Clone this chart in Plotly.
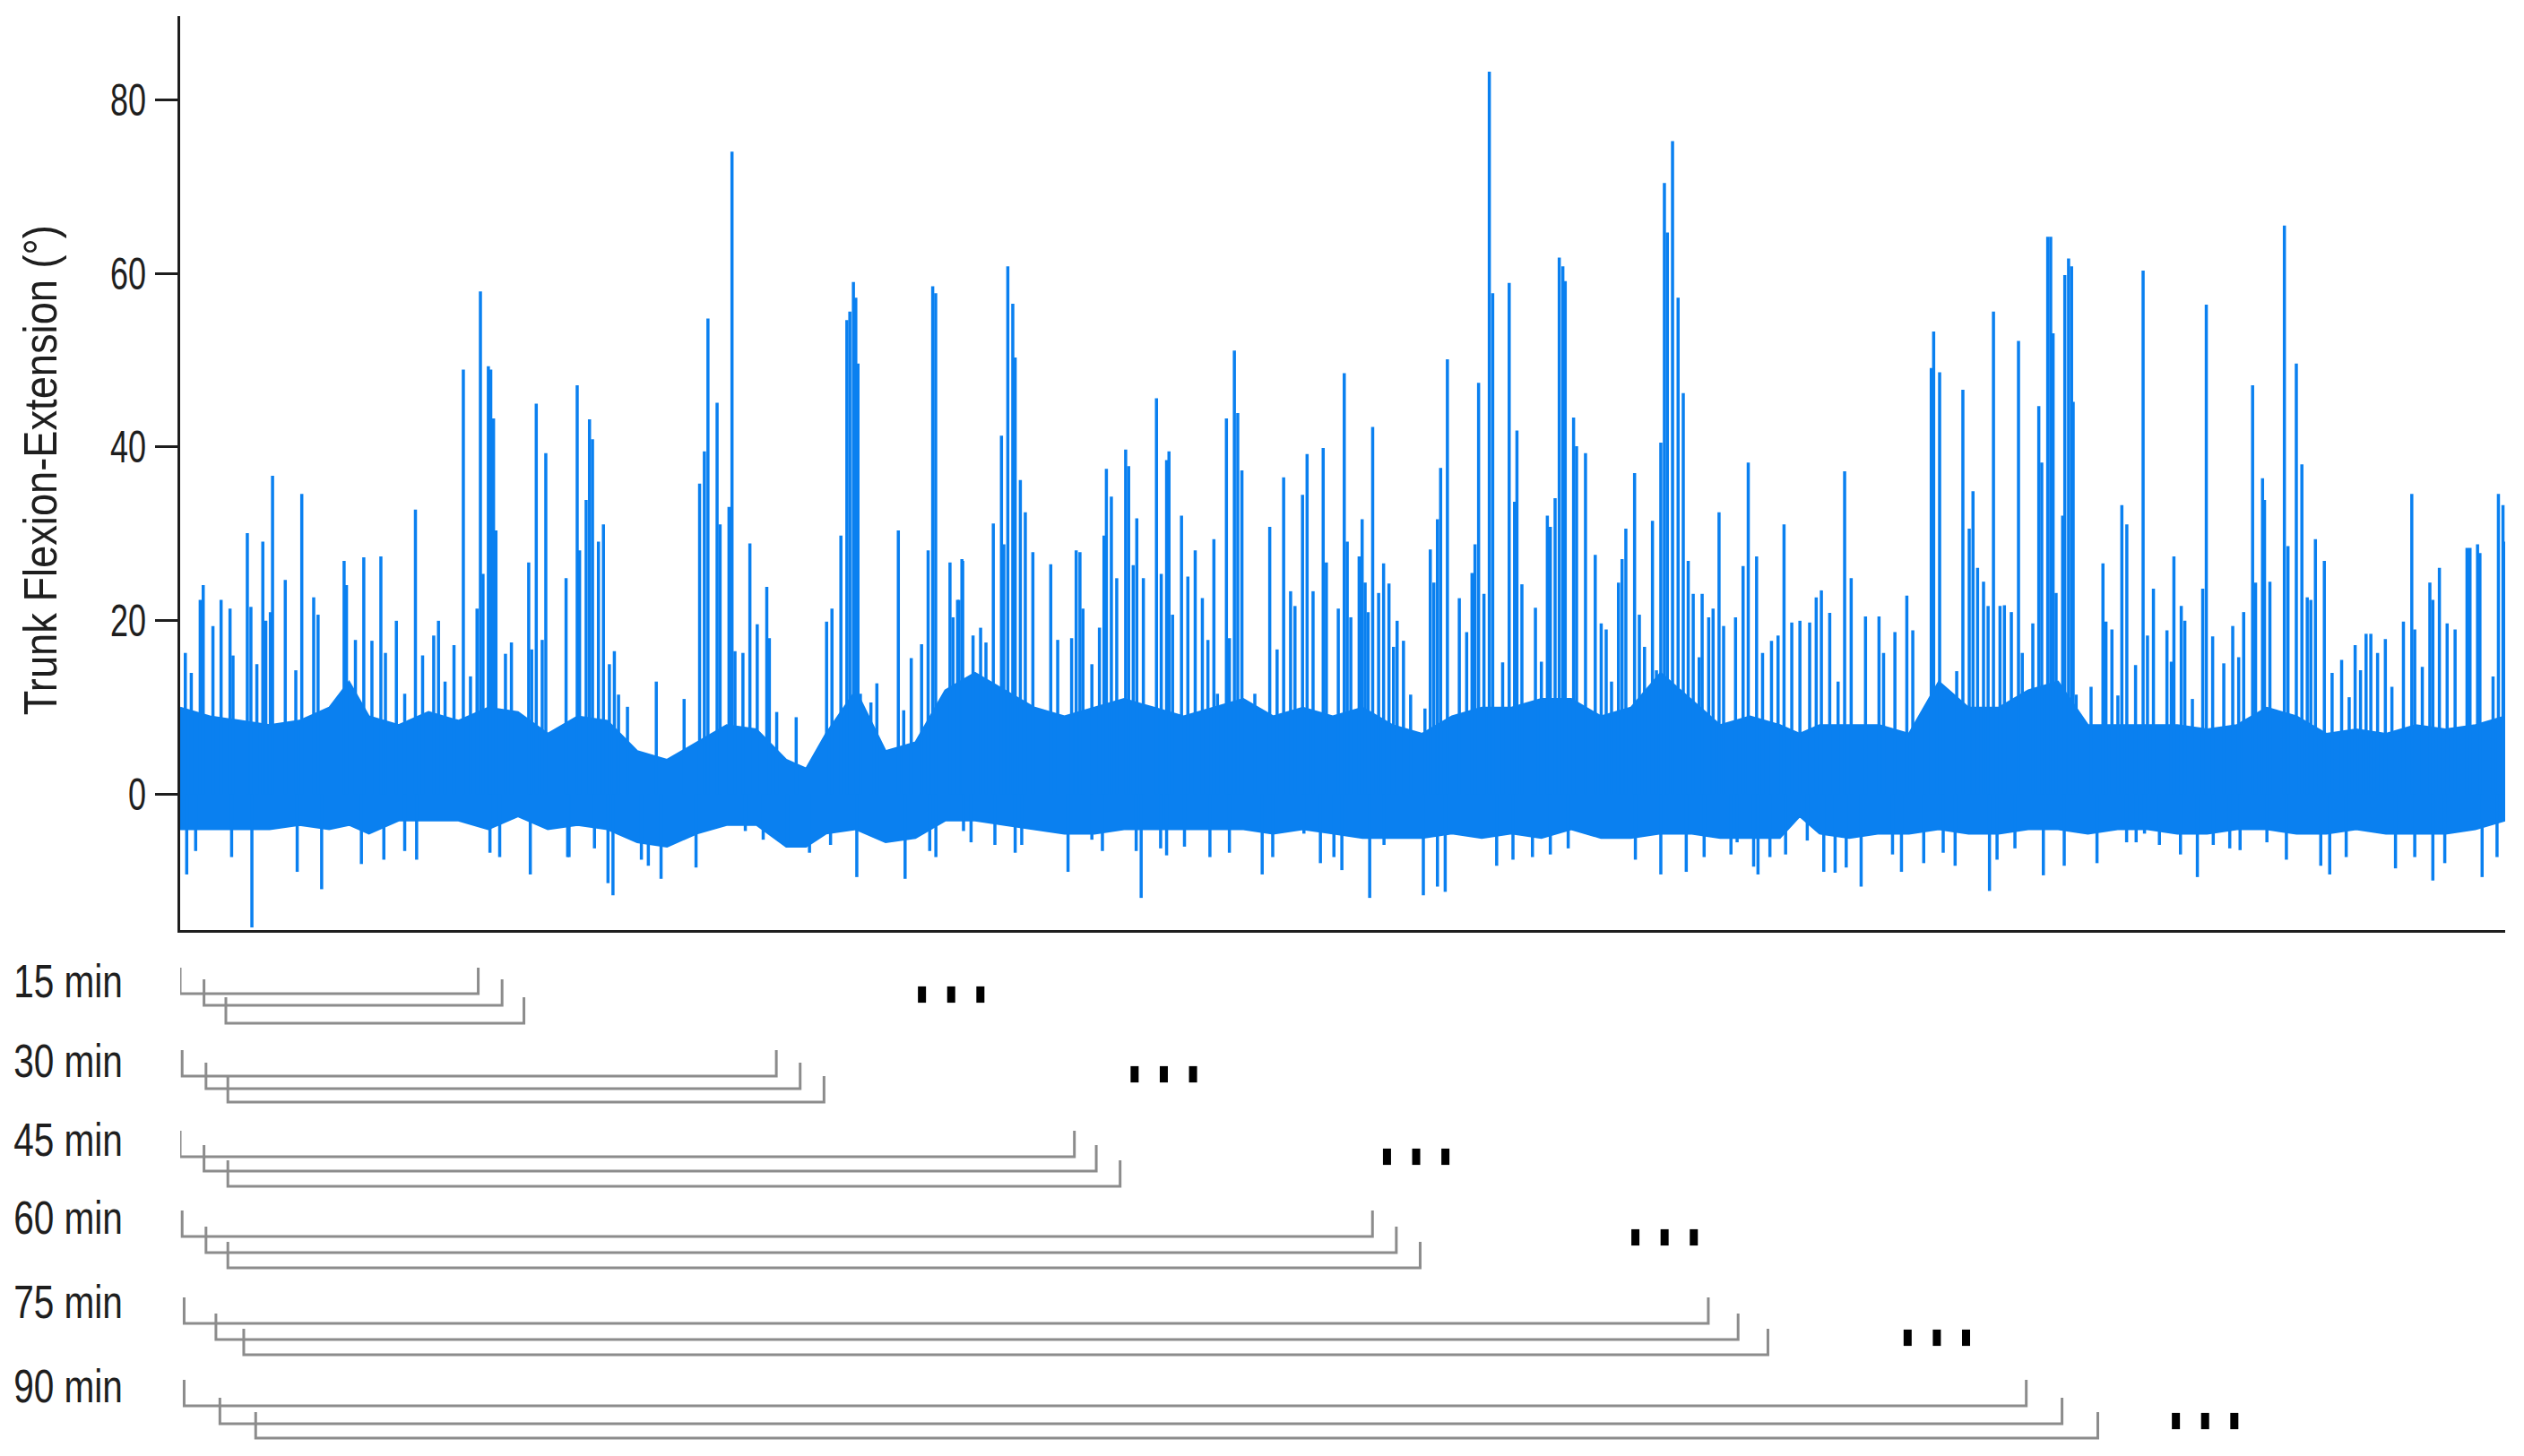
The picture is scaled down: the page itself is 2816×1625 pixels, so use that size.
import plotly.graph_objects as go

# ---- data (x in minutes, y in degrees) ----
BAND_T = [0, 1.5, 3, 4.5, 6, 7.5, 8.5, 9.5, 11, 12.5, 14, 15.5, 17, 18.5, 20, 21.5,
          23, 24.5, 26, 27.5, 29, 30.5, 31.5, 32.5, 34, 35.5, 37, 38.5, 40, 41.5,
          43, 44.5, 46, 47.5, 49, 50.5, 52, 53.5, 55, 56.5, 58, 59.5, 61, 62.5,
          64, 65.5, 67, 68.5, 70, 71.5, 73, 74.5, 76, 77.5, 79, 80.5, 81.5, 82.5,
          84, 85.5, 87, 88.5, 90, 91.5, 93, 94.5, 96, 97.5, 99, 100.5, 102, 103.5,
          105, 106.5, 108, 109.5, 111, 112.5, 114, 115.5, 117]
BAND_HI = [10, 9, 8.5, 8, 8.5, 10, 13, 9, 8, 9.5, 8.5, 10, 9.5, 7, 9, 8.5,
           5, 4, 6, 8, 7.5, 4, 3, 7, 12, 5, 6, 12, 14, 12,
           10, 9, 10, 11, 10, 9, 10, 11, 9, 10, 9, 10, 8, 7,
           9, 10, 10, 11, 11, 9, 10, 14, 11, 8, 9, 8, 7, 8,
           8, 8, 7, 13, 10, 10, 12, 13, 8, 8, 8, 8, 7.5, 8,
           10, 9, 7, 7.5, 7, 8, 7.5, 8, 9]
BAND_LO = [-4, -4, -4, -4, -3.5, -4, -3.5, -4.5, -3, -3, -3, -4, -2.5, -4, -3.5, -4,
           -5.5, -6, -4.5, -3.5, -3.5, -6, -6, -4.5, -4, -5.5, -5, -3, -3, -3.5,
           -4, -4.5, -4.5, -4, -4, -4, -4, -4, -4.5, -4, -4.5, -5, -5, -5,
           -4.5, -5, -4.5, -5, -4, -5, -5, -4.5, -4.5, -5, -5, -5, -2.5, -4.5,
           -5, -4.5, -4.5, -4, -4.5, -4.5, -4, -4, -4.5, -4, -4, -4.5, -4.5, -4,
           -4, -4.5, -4.5, -4, -4.5, -4.5, -4.5, -4, -3]

SPIKE_T = [0.26, 0.56, 1.01, 1.16, 1.65, 2.06, 2.51, 2.66, 3.38, 3.56, 3.86, 4.16, 4.31, 4.54,
           4.65, 5.29, 5.82, 6.12, 6.72, 6.94, 8.25, 8.37, 8.82, 9.24, 9.65, 10.10, 10.33,
           10.88, 11.30, 11.84, 12.20, 12.76, 13.00, 13.33, 13.78, 14.25, 14.61, 14.94, 15.11,
           15.24, 15.51, 15.63, 15.77, 15.89, 16.37, 16.67, 17.54, 17.69, 17.92, 18.22, 18.40,
           19.42,
           19.98, 20.10, 20.43, 20.60, 20.75, 21.05, 21.30, 21.60, 21.85, 22.06, 22.51, 23.96,
           25.36, 26.14, 26.38, 26.56, 27.02, 27.17, 27.62, 27.77, 27.92, 28.32, 28.67, 29.04,
           29.52, 29.65, 30.02, 31.00, 32.53, 32.80, 33.25, 33.55, 33.70, 33.88, 34.00, 34.11,
           34.23, 34.76, 35.06, 36.14, 36.41, 36.79, 37.31, 37.64, 37.87, 38.02, 38.74, 38.89,
           39.19, 39.34,
           39.12, 39.38, 39.90, 40.28, 40.55, 40.92, 41.33, 41.45, 41.65, 41.90, 42.02, 42.28,
           42.53, 42.91, 43.81, 44.16, 44.86, 45.09, 45.28, 45.43, 45.88, 46.26, 46.49, 46.61,
           46.86, 47.13, 47.58, 47.73, 47.96, 48.14, 48.47, 49.13, 49.37, 49.64, 49.76, 49.94,
           50.39, 50.71, 51.08, 51.44, 51.72, 52.02, 52.20, 52.65, 52.80, 53.05, 53.22, 53.43,
           54.08, 54.83, 55.20, 55.53, 55.88, 56.10, 56.48, 56.71, 57.01, 57.52, 57.68, 58.28,
           58.58, 58.73,
           58.91, 59.33, 59.48, 59.63, 59.78, 60.01, 60.31, 60.56, 60.83, 61.06, 61.24, 61.56,
           61.92, 62.64, 62.91, 63.09, 63.27, 63.43, 63.77, 64.37, 64.74, 65.01, 65.16, 65.34,
           65.61, 65.88, 66.05, 66.55, 66.88, 67.15, 67.27, 67.52, 68.20, 68.50, 68.80, 68.95,
           69.19, 69.40, 69.58, 69.70, 70.12, 70.27, 70.72, 71.21, 71.51, 71.76, 72.03, 72.38,
           72.56, 72.75, 73.19, 73.43, 73.69, 74.09, 74.29, 74.51, 74.69, 74.84, 75.10, 75.38,
           75.64, 75.89, 76.14, 76.44, 76.59, 76.92, 77.14, 77.44, 77.67, 78.27, 78.65,
           78.91, 79.33, 79.63, 80.08, 80.41, 80.71, 81.10, 81.51, 82.00, 82.33, 82.59, 83.01,
           83.43, 83.76, 84.09, 84.81, 85.49, 85.72, 86.29, 86.89, 87.19, 87.82, 88.12, 88.24,
           88.54, 88.72, 89.40, 89.71, 90.03, 90.22, 90.45, 90.75, 90.98, 91.25, 91.58, 91.80,
           92.15, 92.51, 92.70, 93.23, 93.53, 93.68, 93.98, 94.13, 94.25, 94.40, 94.73, 94.84,
           95.03, 95.18, 95.26, 95.41, 96.16, 96.76, 96.91, 97.21, 97.51, 97.71, 97.96,
           98.40, 98.78, 99.00, 99.30, 99.98, 100.20, 100.33, 100.70, 100.88, 101.26, 101.78,
           101.96, 102.28, 102.84, 103.29, 103.59, 103.84, 104.29, 104.44, 104.79, 104.89,
           105.16, 105.89, 106.07, 106.49, 106.77, 107.04, 107.22, 107.45, 107.90, 108.29,
           108.77, 109.15, 109.45, 109.72, 110.00, 110.24, 110.58, 110.97, 111.30, 111.88,
           112.30, 112.45, 112.83, 113.21, 113.36, 113.69, 114.08, 114.48, 115.08, 115.23,
           115.61, 115.73, 116.39, 116.66, 116.89, 117.00]
SPIKE_TOP = [16.3, 14.0, 22.4, 24.1, 19.4, 22.4, 21.4, 16.0, 30.1, 21.6, 15.0, 29.1, 20.0, 21.0,
             36.7, 24.7, 14.3, 34.6, 22.7, 20.7, 26.9, 24.1, 17.8, 27.3, 17.7, 27.4, 16.3,
             20.0, 11.6, 32.8, 16.0, 18.3, 20.0, 13.0, 17.2, 48.9, 13.6, 21.4, 57.9,
             25.4, 49.3, 48.9, 43.3, 30.4, 16.2, 17.5, 26.7, 16.7, 45.0, 17.8, 39.3,
             24.9,
             47.1, 28.1, 33.9, 43.2, 40.9, 29.1, 31.1, 15.0, 16.5, 11.5, 10.1, 13.0,
             11.0, 35.8, 39.5, 54.8, 45.1, 31.1, 33.1, 74.0, 16.5, 16.3, 28.9, 19.6,
             23.9, 18.0, 9.5, 8.9, 19.9, 21.4, 29.8, 54.6, 55.6, 59.0, 57.2, 49.6,
             11.6, 10.6, 12.8, 30.4, 9.7, 15.7, 17.3, 28.1, 58.5, 57.7, 26.7, 20.4,
             22.4, 27.1,
             22.4, 26.9, 18.3, 19.2, 17.5, 31.2, 41.3, 28.8, 60.8, 56.5, 50.3, 36.2,
             32.5, 27.9, 26.5, 17.8, 18.0, 28.1, 27.9, 21.4, 15.0, 19.2, 29.8, 37.5,
             34.3, 24.9, 39.7, 37.8, 26.4, 31.8, 24.9, 45.6, 25.4, 38.5, 39.5, 20.7,
             32.1, 25.1, 28.1, 22.6, 17.8, 29.4, 11.6, 43.3, 18.0, 51.1, 43.9, 37.3,
             11.6, 30.8, 16.7, 36.5, 23.4, 21.7, 34.5, 39.2, 23.4, 39.9, 26.7, 21.4,
             48.5, 29.1,
             20.4, 27.4, 31.7, 24.4, 21.0, 42.3, 23.2, 26.6, 24.3, 17.0, 20.0, 17.7,
             11.5, 9.9, 28.2, 24.4, 31.7, 37.6, 50.1, 22.6, 18.7, 25.5, 28.8, 47.4,
             23.1, 83.2, 57.7, 15.2, 58.9, 33.7, 41.9, 24.2, 21.5, 15.3, 32.1, 30.8,
             34.1, 61.8, 60.8, 59.1, 43.4, 40.1, 39.3, 27.6, 19.7, 19.0, 13.0, 24.4,
             27.1, 30.6, 37.0, 20.7, 17.0, 31.5, 14.3, 40.5, 70.4, 64.7, 75.2, 57.2,
             46.2, 26.9, 23.1, 15.8, 23.1, 20.4, 21.4, 32.5, 19.4, 20.4, 26.3,
             38.2, 27.4, 16.3, 17.7, 18.3, 31.1, 19.8, 20.0, 19.8, 22.7, 23.5, 20.9,
             13.0, 37.2, 24.9, 20.5, 20.5, 16.3, 18.7, 22.9, 18.9, 9.9, 49.1, 53.3,
             48.6, 11.0, 14.2, 46.6, 30.6, 34.9, 26.1, 24.5, 21.7, 55.6, 21.7, 21.8,
             21.0, 52.2, 16.3, 19.7, 44.7, 38.2, 64.2, 64.2, 53.1, 23.2, 32.1, 59.8,
             61.7, 60.8, 45.2, 11.5, 12.4, 26.6, 19.9, 19.0, 11.4, 33.3, 31.1,
             14.9, 60.3, 18.3, 23.7, 18.9, 15.3, 27.4, 21.7, 20.0, 11.0, 23.7,
             56.4, 18.2, 15.1, 19.4, 15.8, 21.0, 47.1, 24.4, 36.4, 33.9,
             24.5, 65.5, 28.6, 49.6, 38.0, 22.7, 22.4, 29.4, 26.9, 14.0,
             15.5, 11.2, 17.2, 14.3, 18.5, 18.5, 16.3, 17.9, 12.4, 19.9,
             34.6, 19.0, 14.7, 24.4, 22.4, 26.1, 19.7, 19.0, 28.4, 28.4,
             28.8, 27.8, 13.6, 34.6, 33.3, 29.1]

DIP_T = [0.33, 0.78, 2.59, 3.61, 5.89, 7.12, 9.12, 10.25, 11.30, 11.90, 15.59, 16.08, 17.62,
         19.57, 19.50, 20.85, 21.53, 21.78, 23.21, 23.56, 24.20, 25.96, 28.44, 29.34, 30.55,
         31.67, 32.73, 34.05, 36.48, 37.72, 38.03, 39.42, 39.80, 41.00, 42.02, 42.35, 44.68,
         45.88, 46.41, 48.11, 48.36, 49.34, 49.64, 50.54, 51.82, 52.80, 54.45, 54.98, 56.55,
         57.38, 58.06, 58.46, 59.86, 60.58, 62.56, 63.27, 63.66, 66.25, 67.07, 68.05, 68.95,
         69.85, 73.23, 74.51, 75.79, 76.69, 78.04, 78.35, 79.18, 79.40, 80.00, 80.79, 81.88,
         82.71, 83.28, 83.84, 84.59, 86.17, 86.62, 87.74, 88.72, 89.32, 91.05, 91.43, 92.33,
         93.76, 94.81, 96.46, 97.95, 98.43, 98.85, 99.60, 100.66, 101.51, 102.31, 103.14,
         103.66, 105.01, 105.99, 107.72, 108.17, 109.00, 111.48, 112.45, 113.36, 113.96,
         115.84, 116.59]
DIP_BOTTOM = [-9.2, -6.5, -7.2, -15.3, -8.9, -10.9, -8.0, -7.5, -6.5, -7.5, -6.7, -7.2, -9.2,
              -7.2, -7.2, -6.2, -10.2, -11.6, -7.5, -8.2, -9.7, -8.4, -4.2, -5.2, -5.8,
              -6.7, -5.8, -9.5, -9.7, -6.5, -7.2, -4.2, -5.5, -5.8, -6.7, -5.8, -8.9,
              -5.2, -6.5, -6.5, -11.9, -6.2, -7.0, -6.0, -7.2, -6.7, -9.2, -7.2, -4.5,
              -7.9, -7.2, -8.7, -11.9, -5.8, -11.6, -10.6, -11.2, -8.2, -7.5, -7.2, -6.9,
              -6.2, -7.5, -9.2, -8.9, -7.2, -6.9, -5.5, -8.3, -9.2, -7.2, -6.9, -5.3,
              -8.9, -9.0, -8.4, -10.6, -6.9, -8.9, -7.9, -6.7, -8.2, -11.1, -7.5, -6.2,
              -9.3, -8.2, -7.9, -5.5, -5.5, -4.5, -5.8, -6.9, -9.5, -5.8, -6.2,
              -6.4, -5.5, -7.5, -8.2, -9.2, -7.2, -8.5, -7.2, -9.9, -7.9,
              -9.5, -7.2]

WIN_LABELS = ["15 min", "30 min", "45 min", "60 min", "75 min", "90 min"]
BRACKET_START = [[0.0, 1.2, 2.3], [0.1, 1.3, 2.4], [0.0, 1.2, 2.4],
                 [0.1, 1.3, 2.4], [0.2, 1.8, 3.2], [0.2, 2.0, 3.8]]
BRACKET_END = [[15.0, 16.2, 17.3], [30.0, 31.2, 32.4], [45.0, 46.1, 47.3],
               [60.0, 61.2, 62.4], [76.9, 78.4, 79.9], [92.9, 94.7, 96.5]]
ELLIPSIS_X = [38.8, 49.5, 62.2, 74.7, 88.4, 101.9]

Y_TICKS = [0, 20, 40, 60, 80]

# ---- style / layout ----
W, H = 2816, 1625
BLUE = "#0a80f0"
INK = "#1e1e1e"
GRAY = "#8c8c8c"
FONT = "Liberation Sans Narrow, Arial Narrow, Liberation Sans, Arial, sans-serif"
X_RANGE = [0, 117.0]
Y_RANGE = [-15.6, 89.6]
PX_LEFT, PX_RIGHT, PX_TOP, PX_BOTTOM = 201, 2795, 18, 1038
# bracket panel rows (pixel rows on a helper axis)
ROW_BOTTOMS = [[1109, 1122, 1142], [1201, 1215, 1230], [1291, 1307, 1324],
               [1380, 1398, 1415], [1477, 1495, 1512], [1569, 1589, 1605]]
TICK_H = 29
LABEL_Y = [1095, 1184, 1272, 1359, 1453, 1547]
LABEL_CX = 76
DOT_Y = [1110, 1199, 1291, 1381, 1493, 1586]
DOT_GAP = 1.47
PANEL_TOP = 1048

fig = go.Figure()

# dense band of the signal
fig.add_trace(go.Scatter(x=BAND_T, y=BAND_LO, mode="lines", line=dict(color=BLUE, width=2),
                         showlegend=False, hoverinfo="skip"))
fig.add_trace(go.Scatter(x=BAND_T, y=BAND_HI, mode="lines", line=dict(color=BLUE, width=2),
                         fill="tonexty", fillcolor=BLUE, showlegend=False, hoverinfo="skip"))

# spikes above and below the band
sx, sy = [], []
for t, v in zip(SPIKE_T, SPIKE_TOP):
    sx += [t, t, None]
    sy += [0, v, None]
for t, v in zip(DIP_T, DIP_BOTTOM):
    sx += [t, t, None]
    sy += [0, v, None]
fig.add_trace(go.Scatter(x=sx, y=sy, mode="lines", line=dict(color=BLUE, width=3.5),
                         showlegend=False, hoverinfo="skip"))

# window brackets
bx, by = [], []
for starts, ends, bottoms in zip(BRACKET_START, BRACKET_END, ROW_BOTTOMS):
    for s, e, b in zip(starts, ends, bottoms):
        bx += [s, s, e, e, None]
        by += [b - TICK_H, b, b, b - TICK_H, None]
fig.add_trace(go.Scatter(x=bx, y=by, yaxis="y2", mode="lines",
                         line=dict(color=GRAY, width=3), showlegend=False, hoverinfo="skip"))

# ellipses
dx, dy = [], []
for xm, yd in zip(ELLIPSIS_X, DOT_Y):
    dx += [xm - DOT_GAP, xm, xm + DOT_GAP]
    dy += [yd, yd, yd]
fig.add_trace(go.Scatter(x=dx, y=dy, yaxis="y2", mode="markers",
                         marker=dict(symbol="line-ns", size=13, line=dict(color="black", width=9)),
                         showlegend=False, hoverinfo="skip"))

for lab, yl in zip(WIN_LABELS, LABEL_Y):
    fig.add_annotation(text=lab, xref="paper", x=LABEL_CX / W, xanchor="center",
                       yref="y2", y=yl, yanchor="middle", showarrow=False,
                       font=dict(family=FONT, size=52, color=INK))

fig.add_annotation(text="Trunk Flexion-Extension (°)", textangle=-90,
                   xref="paper", x=45 / W, xanchor="center",
                   yref="paper", y=1 - 525 / H, yanchor="middle", showarrow=False,
                   font=dict(family=FONT, size=52, color=INK))

fig.update_layout(
    width=W, height=H,
    margin=dict(l=0, r=0, t=0, b=0),
    paper_bgcolor="white", plot_bgcolor="white",
    font=dict(family=FONT, color=INK),
    xaxis=dict(domain=[PX_LEFT / W, PX_RIGHT / W], range=X_RANGE, showgrid=False,
               zeroline=False, showticklabels=False, ticks="", showline=True,
               linecolor=INK, linewidth=3, anchor="y"),
    yaxis=dict(domain=[1 - PX_BOTTOM / H, 1 - PX_TOP / H], range=Y_RANGE, showgrid=False,
               zeroline=False, showline=True, linecolor=INK, linewidth=3,
               ticks="outside", ticklen=25, tickwidth=3, tickcolor=INK,
               tickvals=Y_TICKS, tickfont=dict(family=FONT, size=50, color=INK)),
    yaxis2=dict(domain=[0, 1 - PANEL_TOP / H], range=[H, PANEL_TOP], visible=False,
                anchor="x"),
)

# the reference uses a narrow face; squeeze the wide fallback glyphs to match
SQUEEZE_JS = """
document.body.style.margin = '0';
var gd = document.getElementById('{plot_id}');
function squeeze(t, k) {
  var w = t.getComputedTextLength();
  t.setAttribute('lengthAdjust', 'spacingAndGlyphs');
  t.setAttribute('textLength', w * k);
}
gd.querySelectorAll('g.ytick text').forEach(function (t) { squeeze(t, 0.72); });
gd.querySelectorAll('text.annotation-text').forEach(function (t) {
  squeeze(t, t.textContent.indexOf('Trunk') === 0 ? 0.87 : 0.78);
});
"""

fig.write_html("out.html", config={"displayModeBar": False}, post_script=SQUEEZE_JS)
